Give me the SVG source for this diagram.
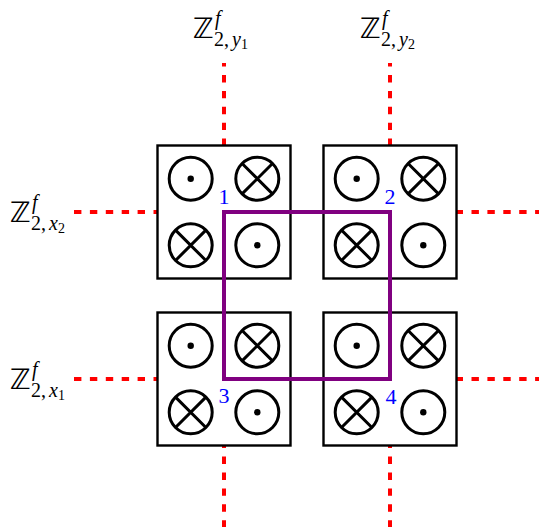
<svg xmlns="http://www.w3.org/2000/svg" width="539" height="527" viewBox="0 0 539 527">
<style>
.box{fill:#fff;stroke:#000;stroke-width:2.4}
.ring{fill:none;stroke:#000;stroke-width:3}
.red{fill:none;stroke:#f00;stroke-width:4;stroke-dasharray:7.4 8.5}
.loop{fill:none;stroke:#800080;stroke-width:4;stroke-linejoin:miter}
.num{font-family:"Liberation Serif","DejaVu Serif",serif;font-size:22px;fill:#00f;text-anchor:middle}
.lab{font-family:"Liberation Serif","DejaVu Serif",serif;fill:#000}
.bb{font-family:"DejaVu Sans","DejaVu Serif",sans-serif;font-size:28px}
.sub{font-size:20px}
.it{font-style:italic}
.ss{font-size:14px}
</style>
<defs>
<g id="dotc"><circle r="21.5" class="ring"/><circle r="3.2" fill="#000"/></g>
<g id="crossc"><circle r="21.5" class="ring"/><path d="M-15.2,-15.2L15.2,15.2M15.2,-15.2L-15.2,15.2" class="ring"/></g>
<g id="cell">
<rect x="-66.5" y="-66.5" width="133" height="133" class="box"/>
<use href="#dotc" x="-33.3" y="-33.3"/>
<use href="#crossc" x="33.3" y="-33.3"/>
<use href="#crossc" x="-33.3" y="33.3"/>
<use href="#dotc" x="33.3" y="33.3"/>
</g>
</defs>
<rect width="539" height="527" fill="#fff"/>
<g id="connectors">
<line x1="224" y1="63" x2="224" y2="527" class="red" stroke-dashoffset="3.9"/>
<line x1="390" y1="63" x2="390" y2="527" class="red" stroke-dashoffset="3.9"/>
<line x1="74" y1="212" x2="539" y2="212" class="red"/>
<line x1="74" y1="379" x2="539" y2="379" class="red"/>
</g>
<g id="node1"><use href="#cell" x="224" y="212"/><text x="224" y="204" class="num">1</text></g>
<g id="node2"><use href="#cell" x="390" y="212"/><text x="390" y="204" class="num">2</text></g>
<g id="node3"><use href="#cell" x="224" y="379"/><text x="224" y="403" class="num">3</text></g>
<g id="node4"><use href="#cell" x="390" y="379"/><text x="391" y="404" class="num">4</text></g>
<g id="loop"><path d="M224,212H390V379H224Z" class="loop"/></g>
<g id="label-y1" class="lab">
<text x="193" y="38" class="bb">ℤ</text>
<text x="215" y="25" class="sub it">f</text>
<text x="214" y="46" class="sub">2,<tspan class="it" dx="3">y</tspan><tspan class="ss" dy="3">1</tspan></text>
</g>
<g id="label-y2" class="lab">
<text x="360" y="38" class="bb">ℤ</text>
<text x="382" y="25" class="sub it">f</text>
<text x="381" y="46" class="sub">2,<tspan class="it" dx="3">y</tspan><tspan class="ss" dy="3">2</tspan></text>
</g>
<g id="label-x2" class="lab">
<text x="10" y="222" class="bb">ℤ</text>
<text x="32" y="209" class="sub it">f</text>
<text x="31" y="230" class="sub">2,<tspan class="it" dx="3">x</tspan><tspan class="ss" dy="3">2</tspan></text>
</g>
<g id="label-x1" class="lab">
<text x="10" y="389" class="bb">ℤ</text>
<text x="32" y="376" class="sub it">f</text>
<text x="31" y="397" class="sub">2,<tspan class="it" dx="3">x</tspan><tspan class="ss" dy="3">1</tspan></text>
</g>
</svg>
